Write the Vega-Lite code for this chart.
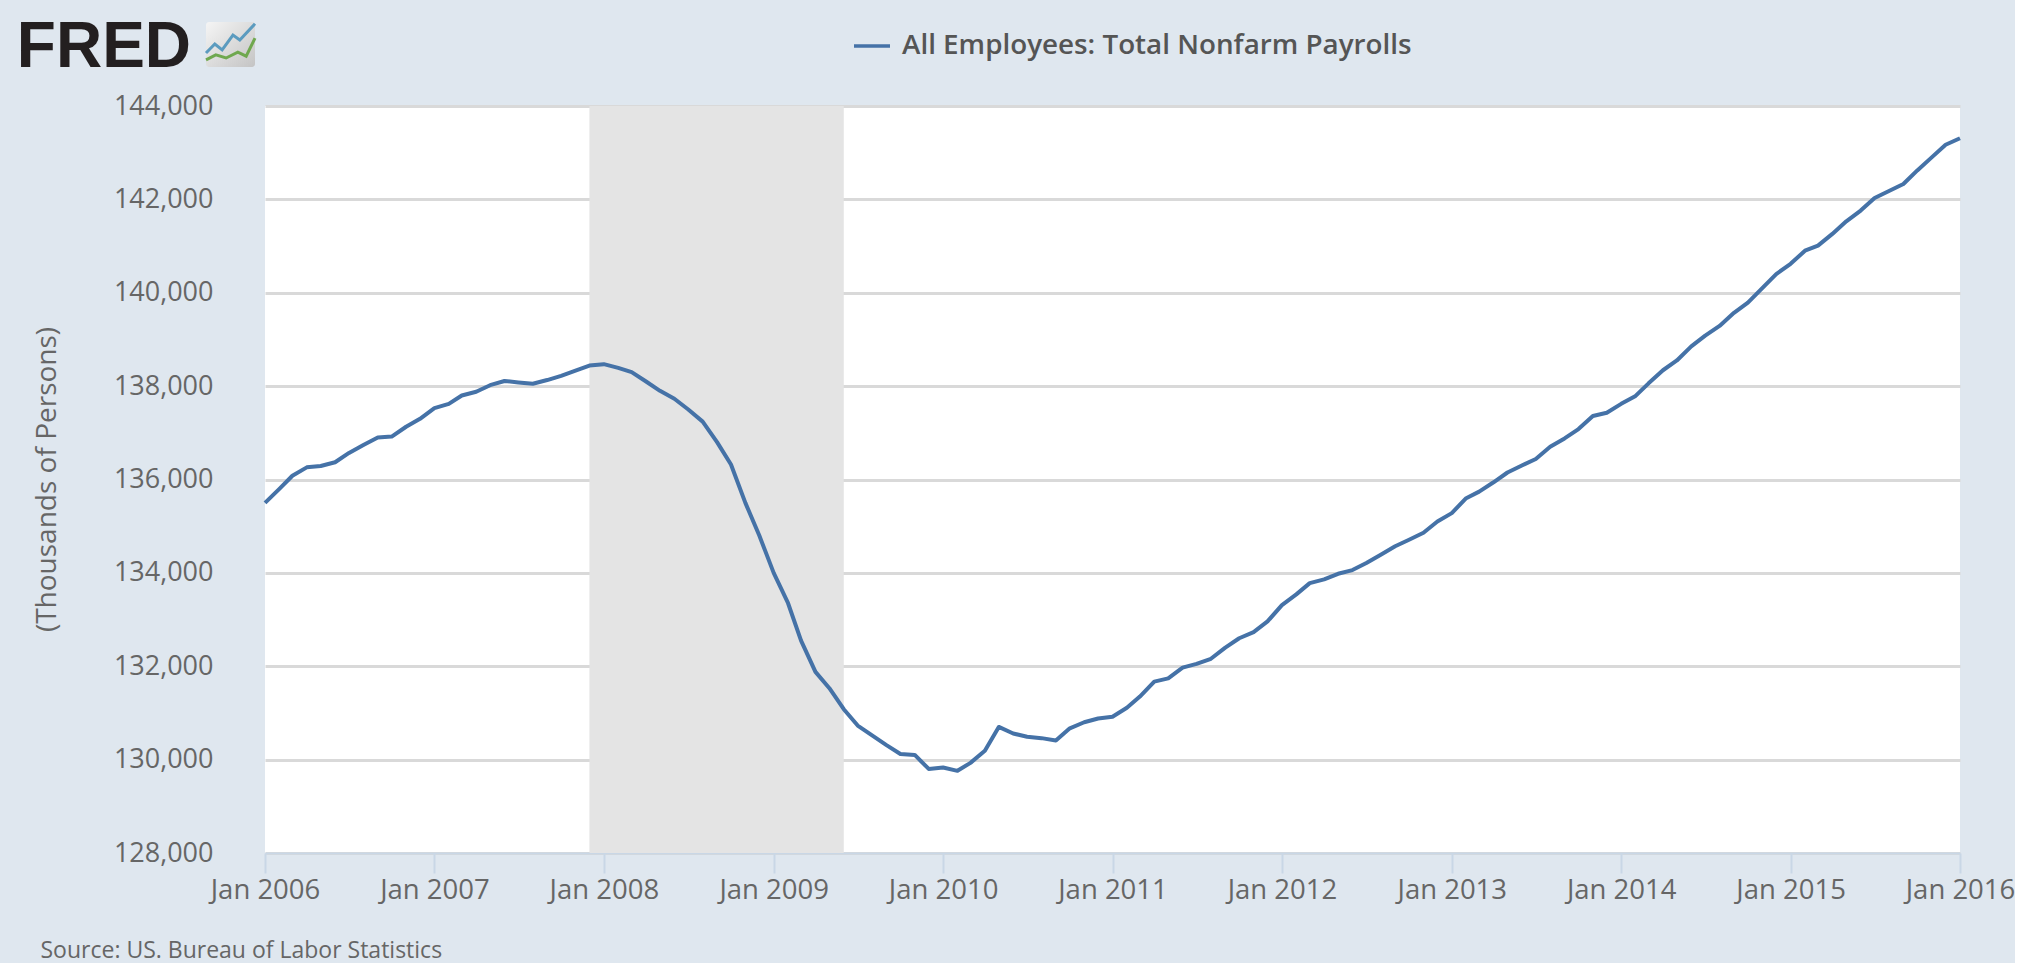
{"$schema":"https://vega.github.io/schema/vega-lite/v6.json","width":1695,"height":747,"autosize":{"type":"none"},"padding":{"left":265,"top":106,"right":55,"bottom":110},"background":"#dfe7ef","view":{"fill":"#ffffff","stroke":null},
"datasets":{
"payrolls":[
{"date":"2006-01-01","value":135500,"series":"All Employees: Total Nonfarm Payrolls"},{"date":"2006-02-01","value":135800,"series":"All Employees: Total Nonfarm Payrolls"},{"date":"2006-03-01","value":136080,"series":"All Employees: Total Nonfarm Payrolls"},{"date":"2006-04-01","value":136260,"series":"All Employees: Total Nonfarm Payrolls"},{"date":"2006-05-01","value":136290,"series":"All Employees: Total Nonfarm Payrolls"},{"date":"2006-06-01","value":136370,"series":"All Employees: Total Nonfarm Payrolls"},{"date":"2006-07-01","value":136570,"series":"All Employees: Total Nonfarm Payrolls"},{"date":"2006-08-01","value":136740,"series":"All Employees: Total Nonfarm Payrolls"},{"date":"2006-09-01","value":136900,"series":"All Employees: Total Nonfarm Payrolls"},{"date":"2006-10-01","value":136920,"series":"All Employees: Total Nonfarm Payrolls"},{"date":"2006-11-01","value":137130,"series":"All Employees: Total Nonfarm Payrolls"},{"date":"2006-12-01","value":137300,"series":"All Employees: Total Nonfarm Payrolls"},
{"date":"2007-01-01","value":137530,"series":"All Employees: Total Nonfarm Payrolls"},{"date":"2007-02-01","value":137620,"series":"All Employees: Total Nonfarm Payrolls"},{"date":"2007-03-01","value":137800,"series":"All Employees: Total Nonfarm Payrolls"},{"date":"2007-04-01","value":137880,"series":"All Employees: Total Nonfarm Payrolls"},{"date":"2007-05-01","value":138020,"series":"All Employees: Total Nonfarm Payrolls"},{"date":"2007-06-01","value":138110,"series":"All Employees: Total Nonfarm Payrolls"},{"date":"2007-07-01","value":138080,"series":"All Employees: Total Nonfarm Payrolls"},{"date":"2007-08-01","value":138050,"series":"All Employees: Total Nonfarm Payrolls"},{"date":"2007-09-01","value":138130,"series":"All Employees: Total Nonfarm Payrolls"},{"date":"2007-10-01","value":138220,"series":"All Employees: Total Nonfarm Payrolls"},{"date":"2007-11-01","value":138330,"series":"All Employees: Total Nonfarm Payrolls"},{"date":"2007-12-01","value":138440,"series":"All Employees: Total Nonfarm Payrolls"},
{"date":"2008-01-01","value":138470,"series":"All Employees: Total Nonfarm Payrolls"},{"date":"2008-02-01","value":138390,"series":"All Employees: Total Nonfarm Payrolls"},{"date":"2008-03-01","value":138300,"series":"All Employees: Total Nonfarm Payrolls"},{"date":"2008-04-01","value":138100,"series":"All Employees: Total Nonfarm Payrolls"},{"date":"2008-05-01","value":137900,"series":"All Employees: Total Nonfarm Payrolls"},{"date":"2008-06-01","value":137730,"series":"All Employees: Total Nonfarm Payrolls"},{"date":"2008-07-01","value":137500,"series":"All Employees: Total Nonfarm Payrolls"},{"date":"2008-08-01","value":137240,"series":"All Employees: Total Nonfarm Payrolls"},{"date":"2008-09-01","value":136800,"series":"All Employees: Total Nonfarm Payrolls"},{"date":"2008-10-01","value":136320,"series":"All Employees: Total Nonfarm Payrolls"},{"date":"2008-11-01","value":135500,"series":"All Employees: Total Nonfarm Payrolls"},{"date":"2008-12-01","value":134800,"series":"All Employees: Total Nonfarm Payrolls"},
{"date":"2009-01-01","value":134000,"series":"All Employees: Total Nonfarm Payrolls"},{"date":"2009-02-01","value":133350,"series":"All Employees: Total Nonfarm Payrolls"},{"date":"2009-03-01","value":132550,"series":"All Employees: Total Nonfarm Payrolls"},{"date":"2009-04-01","value":131880,"series":"All Employees: Total Nonfarm Payrolls"},{"date":"2009-05-01","value":131530,"series":"All Employees: Total Nonfarm Payrolls"},{"date":"2009-06-01","value":131080,"series":"All Employees: Total Nonfarm Payrolls"},{"date":"2009-07-01","value":130730,"series":"All Employees: Total Nonfarm Payrolls"},{"date":"2009-08-01","value":130520,"series":"All Employees: Total Nonfarm Payrolls"},{"date":"2009-09-01","value":130310,"series":"All Employees: Total Nonfarm Payrolls"},{"date":"2009-10-01","value":130120,"series":"All Employees: Total Nonfarm Payrolls"},{"date":"2009-11-01","value":130100,"series":"All Employees: Total Nonfarm Payrolls"},{"date":"2009-12-01","value":129800,"series":"All Employees: Total Nonfarm Payrolls"},
{"date":"2010-01-01","value":129830,"series":"All Employees: Total Nonfarm Payrolls"},{"date":"2010-02-01","value":129760,"series":"All Employees: Total Nonfarm Payrolls"},{"date":"2010-03-01","value":129930,"series":"All Employees: Total Nonfarm Payrolls"},{"date":"2010-04-01","value":130190,"series":"All Employees: Total Nonfarm Payrolls"},{"date":"2010-05-01","value":130700,"series":"All Employees: Total Nonfarm Payrolls"},{"date":"2010-06-01","value":130560,"series":"All Employees: Total Nonfarm Payrolls"},{"date":"2010-07-01","value":130490,"series":"All Employees: Total Nonfarm Payrolls"},{"date":"2010-08-01","value":130460,"series":"All Employees: Total Nonfarm Payrolls"},{"date":"2010-09-01","value":130410,"series":"All Employees: Total Nonfarm Payrolls"},{"date":"2010-10-01","value":130670,"series":"All Employees: Total Nonfarm Payrolls"},{"date":"2010-11-01","value":130800,"series":"All Employees: Total Nonfarm Payrolls"},{"date":"2010-12-01","value":130880,"series":"All Employees: Total Nonfarm Payrolls"},
{"date":"2011-01-01","value":130920,"series":"All Employees: Total Nonfarm Payrolls"},{"date":"2011-02-01","value":131110,"series":"All Employees: Total Nonfarm Payrolls"},{"date":"2011-03-01","value":131350,"series":"All Employees: Total Nonfarm Payrolls"},{"date":"2011-04-01","value":131670,"series":"All Employees: Total Nonfarm Payrolls"},{"date":"2011-05-01","value":131740,"series":"All Employees: Total Nonfarm Payrolls"},{"date":"2011-06-01","value":131970,"series":"All Employees: Total Nonfarm Payrolls"},{"date":"2011-07-01","value":132050,"series":"All Employees: Total Nonfarm Payrolls"},{"date":"2011-08-01","value":132160,"series":"All Employees: Total Nonfarm Payrolls"},{"date":"2011-09-01","value":132400,"series":"All Employees: Total Nonfarm Payrolls"},{"date":"2011-10-01","value":132600,"series":"All Employees: Total Nonfarm Payrolls"},{"date":"2011-11-01","value":132730,"series":"All Employees: Total Nonfarm Payrolls"},{"date":"2011-12-01","value":132960,"series":"All Employees: Total Nonfarm Payrolls"},
{"date":"2012-01-01","value":133310,"series":"All Employees: Total Nonfarm Payrolls"},{"date":"2012-02-01","value":133540,"series":"All Employees: Total Nonfarm Payrolls"},{"date":"2012-03-01","value":133780,"series":"All Employees: Total Nonfarm Payrolls"},{"date":"2012-04-01","value":133860,"series":"All Employees: Total Nonfarm Payrolls"},{"date":"2012-05-01","value":133980,"series":"All Employees: Total Nonfarm Payrolls"},{"date":"2012-06-01","value":134060,"series":"All Employees: Total Nonfarm Payrolls"},{"date":"2012-07-01","value":134210,"series":"All Employees: Total Nonfarm Payrolls"},{"date":"2012-08-01","value":134390,"series":"All Employees: Total Nonfarm Payrolls"},{"date":"2012-09-01","value":134570,"series":"All Employees: Total Nonfarm Payrolls"},{"date":"2012-10-01","value":134710,"series":"All Employees: Total Nonfarm Payrolls"},{"date":"2012-11-01","value":134860,"series":"All Employees: Total Nonfarm Payrolls"},{"date":"2012-12-01","value":135100,"series":"All Employees: Total Nonfarm Payrolls"},
{"date":"2013-01-01","value":135280,"series":"All Employees: Total Nonfarm Payrolls"},{"date":"2013-02-01","value":135600,"series":"All Employees: Total Nonfarm Payrolls"},{"date":"2013-03-01","value":135740,"series":"All Employees: Total Nonfarm Payrolls"},{"date":"2013-04-01","value":135940,"series":"All Employees: Total Nonfarm Payrolls"},{"date":"2013-05-01","value":136150,"series":"All Employees: Total Nonfarm Payrolls"},{"date":"2013-06-01","value":136300,"series":"All Employees: Total Nonfarm Payrolls"},{"date":"2013-07-01","value":136440,"series":"All Employees: Total Nonfarm Payrolls"},{"date":"2013-08-01","value":136700,"series":"All Employees: Total Nonfarm Payrolls"},{"date":"2013-09-01","value":136880,"series":"All Employees: Total Nonfarm Payrolls"},{"date":"2013-10-01","value":137080,"series":"All Employees: Total Nonfarm Payrolls"},{"date":"2013-11-01","value":137360,"series":"All Employees: Total Nonfarm Payrolls"},{"date":"2013-12-01","value":137430,"series":"All Employees: Total Nonfarm Payrolls"},
{"date":"2014-01-01","value":137620,"series":"All Employees: Total Nonfarm Payrolls"},{"date":"2014-02-01","value":137790,"series":"All Employees: Total Nonfarm Payrolls"},{"date":"2014-03-01","value":138060,"series":"All Employees: Total Nonfarm Payrolls"},{"date":"2014-04-01","value":138340,"series":"All Employees: Total Nonfarm Payrolls"},{"date":"2014-05-01","value":138550,"series":"All Employees: Total Nonfarm Payrolls"},{"date":"2014-06-01","value":138850,"series":"All Employees: Total Nonfarm Payrolls"},{"date":"2014-07-01","value":139080,"series":"All Employees: Total Nonfarm Payrolls"},{"date":"2014-08-01","value":139290,"series":"All Employees: Total Nonfarm Payrolls"},{"date":"2014-09-01","value":139570,"series":"All Employees: Total Nonfarm Payrolls"},{"date":"2014-10-01","value":139790,"series":"All Employees: Total Nonfarm Payrolls"},{"date":"2014-11-01","value":140100,"series":"All Employees: Total Nonfarm Payrolls"},{"date":"2014-12-01","value":140400,"series":"All Employees: Total Nonfarm Payrolls"},
{"date":"2015-01-01","value":140620,"series":"All Employees: Total Nonfarm Payrolls"},{"date":"2015-02-01","value":140900,"series":"All Employees: Total Nonfarm Payrolls"},{"date":"2015-03-01","value":141010,"series":"All Employees: Total Nonfarm Payrolls"},{"date":"2015-04-01","value":141260,"series":"All Employees: Total Nonfarm Payrolls"},{"date":"2015-05-01","value":141530,"series":"All Employees: Total Nonfarm Payrolls"},{"date":"2015-06-01","value":141760,"series":"All Employees: Total Nonfarm Payrolls"},{"date":"2015-07-01","value":142030,"series":"All Employees: Total Nonfarm Payrolls"},{"date":"2015-08-01","value":142180,"series":"All Employees: Total Nonfarm Payrolls"},{"date":"2015-09-01","value":142330,"series":"All Employees: Total Nonfarm Payrolls"},{"date":"2015-10-01","value":142620,"series":"All Employees: Total Nonfarm Payrolls"},{"date":"2015-11-01","value":142900,"series":"All Employees: Total Nonfarm Payrolls"},{"date":"2015-12-01","value":143170,"series":"All Employees: Total Nonfarm Payrolls"},
{"date":"2016-01-01","value":143310,"series":"All Employees: Total Nonfarm Payrolls"}],
"recession":[{"start":"2007-12-01","end":"2009-06-01"}],
"logoBox":[{"x0":0,"x1":10,"y0":0,"y1":10}],
"logoWord":[{"wx":-38.6,"wy":0,"word":"FRED"}],
"logoLines":[{"ix":0,"iy":3.1,"s":"a"},{"ix":1.8,"iy":5.1,"s":"a"},{"ix":3.3,"iy":3.8,"s":"a"},{"ix":5.5,"iy":7.1,"s":"a"},{"ix":6.9,"iy":6,"s":"a"},{"ix":10,"iy":9.6,"s":"a"},{"ix":0,"iy":1.6,"s":"b"},{"ix":2,"iy":2.7,"s":"b"},{"ix":4.1,"iy":2,"s":"b"},{"ix":6.5,"iy":3.3,"s":"b"},{"ix":8.2,"iy":2.4,"s":"b"},{"ix":10,"iy":6.4,"s":"b"}]
},
"layer":[
{"layer":[
{"data":{"name":"recession"},"mark":{"type":"rect","color":"#e4e4e4"},"encoding":{"x":{"field":"start","type":"temporal"},"x2":{"field":"end"}}},
{"data":{"name":"payrolls"},"mark":{"type":"line","strokeWidth":4,"strokeJoin":"round"},"encoding":{
"x":{"field":"date","type":"temporal","scale":{"domain":[{"year":2006,"month":1,"date":1},{"year":2016,"month":1,"date":1}]},
"axis":{"format":"%b %Y","values":[{"year":2006,"month":1,"date":1},{"year":2007,"month":1,"date":1},{"year":2008,"month":1,"date":1},{"year":2009,"month":1,"date":1},{"year":2010,"month":1,"date":1},{"year":2011,"month":1,"date":1},{"year":2012,"month":1,"date":1},{"year":2013,"month":1,"date":1},{"year":2014,"month":1,"date":1},{"year":2015,"month":1,"date":1},{"year":2016,"month":1,"date":1}],"grid":false,"domainColor":"#c9d7e6","domainWidth":2,"tickColor":"#c9d7e6","tickWidth":2,"tickSize":20,"labelFont":"Open Sans","labelFontSize":27.5,"labelColor":"#666666","labelPadding":3,"labelOverlap":false,"labelFlush":false,"title":"Source: US. Bureau of Labor Statistics","titleFont":"Open Sans","titleFontSize":23,"titleFontWeight":"normal","titleColor":"#666666","titleAlign":"left","titleAnchor":"start","titleBaseline":"alphabetic","titleX":-225,"titleY":104}},
"y":{"field":"value","type":"quantitative","scale":{"domain":[128000,144000],"nice":false,"zero":false},
"axis":{"values":[128000,130000,132000,134000,136000,138000,140000,142000,144000],"format":",d","domain":false,"ticks":false,"gridColor":"#d9d9d9","gridWidth":3,"labelFont":"Open Sans","labelFontSize":27,"labelColor":"#666666","labelPadding":52,"title":"(Thousands of Persons)","titleFont":"Open Sans","titleFontSize":28,"titleFontWeight":"normal","titleColor":"#666666","titleX":-218,"titleY":373,"titleAngle":-90,"titleAlign":"center","titleBaseline":"middle"}},
"color":{"field":"series","type":"nominal","scale":{"range":["#4572a7"]},
"legend":{"title":null,"orient":"none","legendX":587,"legendY":-80,"symbolType":"stroke","symbolSize":1296,"symbolStrokeWidth":3.5,"labelFont":"Open Sans","labelFontSize":27.8,"labelFontWeight":600,"labelColor":"#555555","labelOffset":10,"labelLimit":700}}}}
]},
{"layer":[
{"data":{"name":"logoBox"},"mark":{"type":"rect","cornerRadius":3,"color":{"x1":0,"y1":0,"x2":1,"y2":1,"gradient":"linear","stops":[{"offset":0,"color":"#f5f5f5"},{"offset":1,"color":"#c4c4c4"}]}},"encoding":{
"x":{"field":"x0","type":"quantitative","scale":{"domain":[0,10],"range":[-59,-10]},"axis":null},"x2":{"field":"x1"},
"y":{"field":"y0","type":"quantitative","scale":{"domain":[0,10],"range":[-39,-84]},"axis":null},"y2":{"field":"y1"}}},
{"data":{"name":"logoLines"},"mark":{"type":"line","strokeWidth":3},"encoding":{
"x":{"field":"ix","type":"quantitative","scale":{"domain":[0,10],"range":[-59,-10]},"axis":null},
"y":{"field":"iy","type":"quantitative","scale":{"domain":[0,10],"range":[-39,-84]},"axis":null},
"detail":{"field":"s"},
"stroke":{"field":"s","type":"nominal","scale":{"domain":["a","b"],"range":["#5b9bbf","#6fa84f"]},"legend":null}}},
{"data":{"name":"logoWord"},"mark":{"type":"text","align":"left","baseline":"alphabetic","font":"Liberation Sans","fontWeight":"bold","fontSize":64,"color":"#231f20"},"encoding":{
"x":{"field":"wx","type":"quantitative","scale":{"domain":[0,10],"range":[-59,-10]},"axis":null},
"y":{"field":"wy","type":"quantitative","scale":{"domain":[0,10],"range":[-39,-84]},"axis":null},
"text":{"field":"word"}}}
]}
],
"resolve":{"scale":{"x":"independent","y":"independent"},"axis":{"x":"independent","y":"independent"}}
}
